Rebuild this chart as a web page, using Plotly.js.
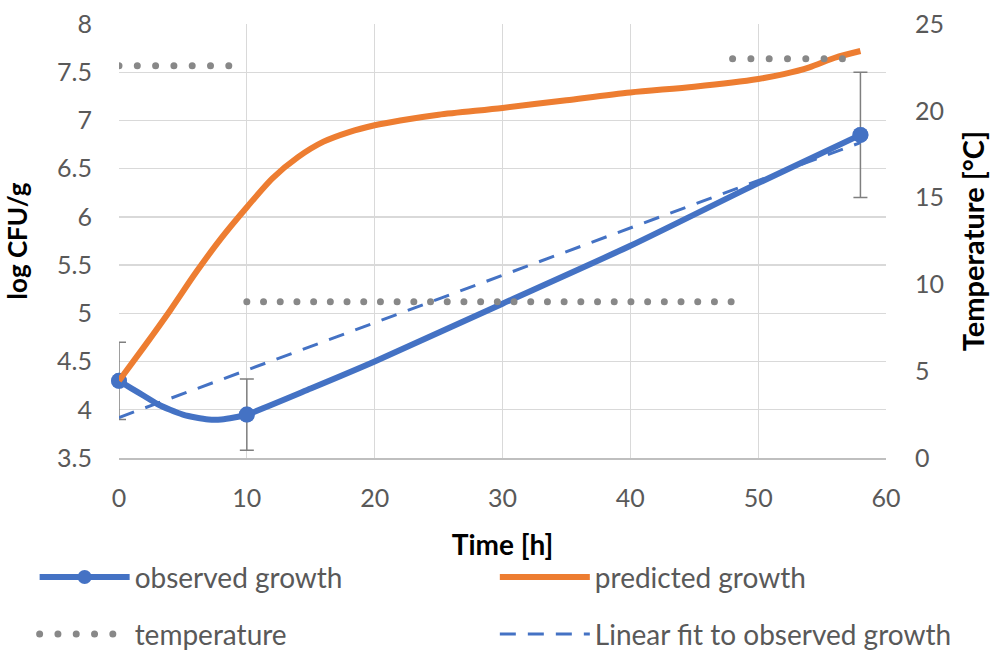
<!DOCTYPE html>
<html><head><meta charset="utf-8">
<script src="https://cdn.plot.ly/plotly-3.0.1.min.js"></script>
<style>html,body{margin:0;padding:0;background:#fff;} #chart{width:991px;height:652px;}</style>
</head><body><div id="chart"></div>
<script>
// ---- data ----
// observed measurements (markers + error bars)
const obsTime = [0, 10, 58];
const obsLog = [4.30, 3.95, 6.85];
const obsErr = [0.40, 0.37, 0.65];
// smoothed observed-growth line as drawn in the reference
const obsCurveTime = [0, 1, 2, 3, 4, 5, 6, 7, 8, 9, 10, 15, 20, 30, 40, 50, 58];
const obsCurveLog  = [4.30, 4.22, 4.14, 4.06, 4.00, 3.95, 3.92, 3.90, 3.90, 3.92, 3.95, 4.22, 4.50, 5.10, 5.70, 6.35, 6.85];

const predTime = [0, 2, 4, 6, 8, 10, 12, 14, 16, 18, 20, 22, 25, 30, 35, 40, 45, 50, 52, 54, 56, 58];
const predLog  = [4.30, 4.66, 5.03, 5.42, 5.78, 6.10, 6.40, 6.62, 6.78, 6.88, 6.95, 7.00, 7.06, 7.13, 7.21, 7.29, 7.35, 7.43, 7.48, 7.55, 7.65, 7.72];

const fitTime = [0, 58];
const fitLog = [3.92, 6.77];

const tempTime = [0, 9, null, 10, 48, null, 48, 57];
const tempC    = [22.6, 22.6, null, 9, 9, null, 23, 23];

const xTicks = [0, 10, 20, 30, 40, 50, 60];
const yTicks = [3.5, 4, 4.5, 5, 5.5, 6, 6.5, 7, 7.5, 8];
const y2Ticks = [0, 5, 10, 15, 20, 25];

const seriesNames = ['observed growth', 'predicted growth', 'temperature', 'Linear fit to observed growth'];
const xTitle = 'Time [h]';
const yTitle = 'log CFU/g';
const y2Title = 'Temperature [°C]';

// ---- styles ----
const BLUE = '#4472C4', ORANGE = '#ED7D31', GREY = '#888888';
const dotGaps = [18.3, 16.7, 18.3];
const FONT = 'Lato, "Open Sans", sans-serif';

// split temperature into segments (at null gaps)
const tempSegs = [];
let cur = {x: [], y: []};
tempTime.forEach((t, i) => {
  if (t === null) { tempSegs.push(cur); cur = {x: [], y: []}; }
  else { cur.x.push(t); cur.y.push(tempC[i]); }
});
tempSegs.push(cur);

const traces = [
  { // smooth line with markers at observed times
    x: obsCurveTime, y: obsCurveLog, name: seriesNames[0], type: 'scatter', mode: 'lines+markers',
    line: {color: BLUE, width: 6, shape: 'spline', smoothing: 0.6},
    marker: {color: BLUE, size: obsCurveTime.map(t => obsTime.includes(t) ? 16 : 0), line: {width: 0}},
    cliponaxis: false, legend: 'legend', hoverinfo: 'skip'
  },
  { // observed points with error bars
    x: obsTime, y: obsLog, name: seriesNames[0], type: 'scatter', mode: 'markers',
    marker: {color: BLUE, size: 16},
    error_y: {type: 'data', array: obsErr, visible: true, color: '#7f7f7f', thickness: 1.5, width: 7},
    cliponaxis: false, showlegend: false
  },
  {
    x: predTime, y: predLog, name: seriesNames[1], type: 'scatter', mode: 'lines',
    line: {color: ORANGE, width: 6, shape: 'spline', smoothing: 0.8},
    cliponaxis: false, legend: 'legend2'
  },
  {
    x: fitTime, y: fitLog, name: seriesNames[3], type: 'scatter', mode: 'lines',
    line: {color: BLUE, width: 3, dash: '16px,12px'},
    cliponaxis: false, legend: 'legend4'
  }
];
tempSegs.forEach((s, k) => {
  traces.push({
    x: s.x, y: s.y, yaxis: 'y2', name: seriesNames[2], type: 'scatter', mode: 'lines',
    line: {color: GREY, width: 7, dash: '0px,' + dotGaps[k] + 'px'},
    cliponaxis: false, legend: 'legend3', legendgroup: 'temp', showlegend: k === 0
  });
});

const tickFont = {family: FONT, size: 25, color: '#595959'};
const titleFont = (s) => ({family: FONT, size: s, color: '#000000', weight: 'bold'});
const legFont = {family: FONT, size: 28, color: '#595959'};
const leg = (x, y) => ({
  orientation: 'h', x: x, xanchor: 'left', y: y, yanchor: 'middle',
  font: legFont, itemwidth: 90, bgcolor: 'rgba(0,0,0,0)', borderwidth: 0
});

const layout = {
  width: 991, height: 652,
  margin: {l: 118.5, r: 104.5, t: 24, b: 193.5, autoexpand: false},
  paper_bgcolor: '#ffffff', plot_bgcolor: '#ffffff',
  font: {family: FONT},
  showlegend: true,
  xaxis: {
    range: [0, 60], tickvals: xTicks, ticktext: xTicks.map(String), ticks: '',
    showgrid: true, gridcolor: '#d9d9d9', gridwidth: 1.3, zeroline: false,
    showline: true, linecolor: '#bfbfbf', linewidth: 2,
    tickfont: tickFont, ticklabelstandoff: 17,
    title: {text: xTitle, font: titleFont(28), standoff: 24}
  },
  yaxis: {
    range: [3.5, 8], tickvals: yTicks, ticktext: yTicks.map(String), ticks: '',
    showgrid: true, gridcolor: '#d9d9d9', gridwidth: 1.3, zeroline: false, showline: false,
    tickfont: tickFont, ticklabelstandoff: 26,
    title: {text: yTitle, font: titleFont(26), standoff: 21}
  },
  yaxis2: {
    range: [0, 25], tickvals: y2Ticks, ticktext: y2Ticks.map(String), ticks: '',
    overlaying: 'y', side: 'right', showgrid: false, zeroline: false, showline: false,
    tickfont: tickFont, ticklabelstandoff: 28,
    title: {text: y2Title, font: titleFont(29), standoff: 20}
  },
  legend:  leg(-0.11, -0.275),
  legend2: leg(0.490, -0.275),
  legend3: leg(-0.11, -0.406),
  legend4: leg(0.490, -0.406)
};

Plotly.newPlot('chart', traces, layout, {displayModeBar: false, staticPlot: true}).then(gd => {
  // round caps so the dotted temperature line is drawn as round dots
  document.querySelectorAll('.trace path.js-line, .legendlines path').forEach(p => {
    const da = p.style.strokeDasharray || '';
    if (da.replace(/\s/g, '').startsWith('0px')) p.style.strokeLinecap = 'round';
  });
  // full-size marker in the observed-growth legend symbol
  document.querySelectorAll('.legend .legendpoints path.scatterpts').forEach(p => {
    p.setAttribute('d', 'M7,0A7,7 0 1,1 0,-7A7,7 0 0,1 7,0Z');
    p.style.opacity = 1;
    p.style.fillOpacity = 1;
    p.style.fill = BLUE;
  });
});
</script>
</body></html>
